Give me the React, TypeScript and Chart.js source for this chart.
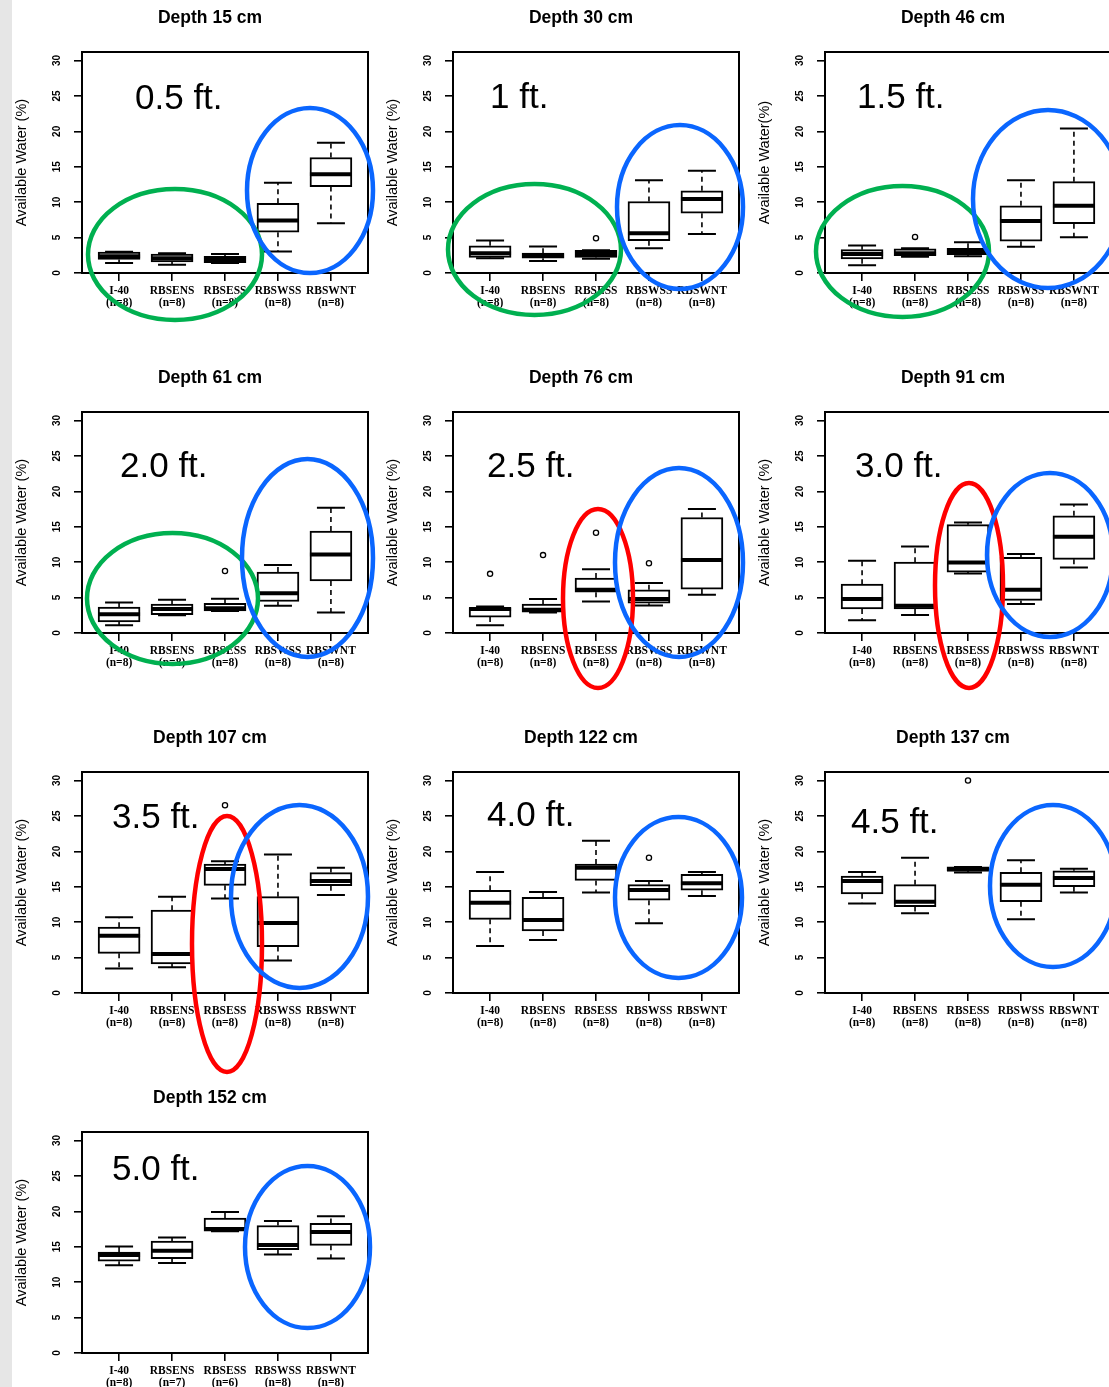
import React, { useEffect, useRef } from "react";
import { Chart, registerables } from "chart.js";

Chart.register(...registerables);

// ---------------- DATA ----------------
const CATEGORIES = ["I-40", "RBSENS", "RBSESS", "RBSWSS", "RBSWNT"];
const DEPTH_TITLES = [
  "Depth 15 cm", "Depth 30 cm", "Depth 46 cm",
  "Depth 61 cm", "Depth 76 cm", "Depth 91 cm",
  "Depth 107 cm", "Depth 122 cm", "Depth 137 cm",
  "Depth 152 cm",
];
const FT_LABELS = ["0.5 ft.", "1 ft.", "1.5 ft.", "2.0 ft.", "2.5 ft.", "3.0 ft.", "3.5 ft.", "4.0 ft.", "4.5 ft.", "5.0 ft."];
const Y_TITLES = [
  "Available Water (%)", "Available Water (%)", "Available Water(%)",
  "Available Water (%)", "Available Water (%)", "Available Water (%)",
  "Available Water (%)", "Available Water (%)", "Available Water (%)",
  "Available Water (%)",
];
const N_COUNTS = [
  [8, 8, 8, 8, 8], [8, 8, 8, 8, 8], [8, 8, 8, 8, 8],
  [8, 8, 8, 8, 8], [8, 8, 8, 8, 8], [8, 8, 8, 8, 8],
  [8, 8, 8, 8, 8], [8, 8, 8, 8, 8], [8, 8, 8, 8, 8],
  [8, 7, 6, 8, 8],
];
const Y_TICKS = [0, 5, 10, 15, 20, 25, 30];
const X_TICKS = [1, 2, 3, 4, 5];

const WHISKER_LOW = [
  [1.4, 1.17, 1.4, 3.05, 7.03],
  [2.1, 1.7, 2.0, 3.5, 5.5],
  [1.1, 2.3, 2.35, 3.7, 5.05],
  [1.1, 2.5, 3.1, 3.85, 2.9],
  [1.1, 2.9, 4.45, 3.9, 5.4],
  [1.8, 2.55, 8.4, 4.1, 9.25],
  [3.45, 3.65, 13.35, 4.6, 13.85],
  [6.65, 7.5, 14.2, 9.85, 13.7],
  [12.65, 11.25, 17.0, 10.4, 14.2],
  [12.4, 12.7, 17.2, 13.9, 13.35],
];
const Q1 = [
  [1.9, 1.55, 1.45, 5.77, 12.2],
  [2.2, 2.1, 2.2, 4.55, 8.45],
  [2.0, 2.45, 2.6, 4.5, 6.95],
  [1.55, 2.6, 3.1, 4.45, 7.35],
  [2.25, 2.95, 5.75, 4.2, 6.2],
  [3.4, 3.4, 8.6, 4.6, 10.4],
  [5.6, 4.1, 15.2, 6.55, 15.15],
  [10.4, 8.75, 15.9, 13.1, 14.5],
  [14.0, 12.2, 17.25, 12.9, 15.0],
  [12.95, 13.3, 17.2, 14.6, 15.2],
];
const MEDIAN = [
  [2.35, 2.1, 1.9, 7.4, 13.95],
  [2.8, 2.4, 2.7, 5.6, 10.45],
  [2.7, 2.8, 3.05, 7.35, 9.5],
  [2.65, 3.4, 3.5, 5.6, 11.1],
  [3.4, 3.3, 6.1, 4.8, 10.3],
  [4.8, 3.85, 9.95, 6.1, 13.6],
  [8.1, 5.5, 17.5, 9.9, 15.8],
  [12.75, 10.3, 17.7, 14.55, 15.5],
  [15.8, 12.9, 17.45, 15.3, 16.25],
  [13.85, 14.45, 17.5, 15.25, 17.1],
];
const Q3 = [
  [2.95, 2.67, 2.34, 9.85, 16.3],
  [3.84, 2.8, 3.2, 10.1, 11.6],
  [3.3, 3.4, 3.5, 9.5, 12.9],
  [3.65, 4.1, 4.2, 8.6, 14.4],
  [3.6, 4.1, 7.75, 6.1, 16.3],
  [6.9, 10.0, 15.3, 10.7, 16.55],
  [9.3, 11.7, 18.2, 13.6, 17.0],
  [14.5, 13.5, 18.2, 15.3, 16.75],
  [16.5, 15.3, 17.8, 17.05, 17.25],
  [14.25, 15.8, 19.05, 18.0, 18.3],
];
const WHISKER_HIGH = [
  [3.0, 2.8, 2.7, 12.75, 18.4],
  [4.6, 3.75, 3.2, 13.1, 14.45],
  [3.9, 3.5, 4.35, 13.1, 20.4],
  [4.3, 4.7, 4.85, 9.6, 17.7],
  [3.75, 4.8, 9.0, 7.05, 17.5],
  [10.2, 12.2, 15.6, 11.15, 18.15],
  [10.7, 13.6, 18.6, 19.55, 17.7],
  [17.1, 14.25, 21.5, 15.8, 17.1],
  [17.1, 19.1, 17.8, 18.75, 17.55],
  [15.05, 16.3, 19.9, 18.65, 19.3],
];
// [panel, category index, value]
const OUTLIERS: [number, number, number][] = [
  [1, 2, 4.9],
  [2, 1, 5.1],
  [3, 2, 8.75],
  [4, 0, 8.35], [4, 1, 11.0], [4, 2, 14.15], [4, 3, 9.85],
  [6, 2, 26.5],
  [7, 3, 19.1],
  [8, 2, 30.0],
];

// ---------------- LAYOUT / ANNOTATIONS ----------------
const COL_LEFT = [82, 453, 825];
const ROW_TOP = [52, 412, 772, 1132];
const AXIS_W = 82;
const TOP_PAD = 52;
const PLOT_W = 286;
const PLOT_H = 221;
const RIGHT_PAD = 40;
const BOTTOM_H = 92;
const CANVAS_W = AXIS_W + PLOT_W + RIGHT_PAD;
const CANVAS_H = TOP_PAD + PLOT_H + BOTTOM_H;

const GREEN = "rgb(0,176,80)";
const BLUE = "rgb(10,102,255)";
const RED = "rgb(255,0,0)";

// label anchor relative to plot area (left, baseline)
const FT_LABEL_POS = [
  [53, 57], [37, 56], [32, 56],
  [38, 65], [34, 65], [30, 65],
  [30, 56], [34, 54], [26, 61],
  [30, 48],
];
// ellipses relative to plot area: [color, cx, cy, rx, ry]
const ELLIPSES: [string, number, number, number, number][][] = [
  [[GREEN, 93, 202.5, 87, 65.5], [BLUE, 228, 138.5, 63, 82.5]],
  [[GREEN, 81.5, 197.5, 86.5, 65.5], [BLUE, 227, 155, 63, 82]],
  [[GREEN, 77.5, 199.5, 86.5, 65.5], [BLUE, 223, 147, 75, 89]],
  [[GREEN, 90.5, 186.5, 85.5, 65.5], [BLUE, 225.5, 146, 65.5, 99]],
  [[RED, 145, 186.5, 35, 89.5], [BLUE, 226, 150.5, 64, 94.5]],
  [[RED, 144, 173.5, 34, 102.5], [BLUE, 225, 143, 63, 82]],
  [[RED, 145, 172, 35, 128], [BLUE, 217.5, 124.5, 68.5, 91.5]],
  [[BLUE, 225.5, 125.5, 63.5, 80.5]],
  [[BLUE, 228, 114, 63, 81]],
  [[BLUE, 225.5, 115, 62.5, 81]],
];

const SANS = "'Liberation Sans', Arial, sans-serif";
const SERIF = "'Liberation Serif', 'Times New Roman', serif";

const decorPlugin = {
  id: "boxDecor",
  afterDatasetsDraw(chart: any, _args: any, opts: any) {
    const p = opts.panel as number;
    const { ctx } = chart;
    const x = chart.scales.x;
    const y = chart.scales.y;
    const meta = chart.getDatasetMeta(0);
    ctx.save();
    ctx.strokeStyle = "#000";
    for (let i = 0; i < CATEGORIES.length; i++) {
      const cx = x.getPixelForValue(i + 1);
      const bar = meta.data[i];
      const halfW = (bar && bar.width ? bar.width : 42) / 2;
      const capHalf = 14;
      const yLow = y.getPixelForValue(WHISKER_LOW[p][i]);
      const yQ1 = y.getPixelForValue(Q1[p][i]);
      const yQ3 = y.getPixelForValue(Q3[p][i]);
      const yHigh = y.getPixelForValue(WHISKER_HIGH[p][i]);
      const yMed = y.getPixelForValue(MEDIAN[p][i]);
      // dashed whiskers
      ctx.setLineDash([5, 4]);
      ctx.lineWidth = 1.6;
      ctx.beginPath();
      ctx.moveTo(cx, yQ3);
      ctx.lineTo(cx, yHigh);
      ctx.moveTo(cx, yQ1);
      ctx.lineTo(cx, yLow);
      ctx.stroke();
      // caps
      ctx.setLineDash([]);
      ctx.lineWidth = 2;
      ctx.beginPath();
      ctx.moveTo(cx - capHalf, yHigh);
      ctx.lineTo(cx + capHalf, yHigh);
      ctx.moveTo(cx - capHalf, yLow);
      ctx.lineTo(cx + capHalf, yLow);
      ctx.stroke();
      // median
      ctx.lineWidth = 4;
      ctx.beginPath();
      ctx.moveTo(cx - halfW, yMed);
      ctx.lineTo(cx + halfW, yMed);
      ctx.stroke();
    }
    ctx.restore();
  },
  afterDraw(chart: any, _args: any, opts: any) {
    const p = opts.panel as number;
    const { ctx, chartArea } = chart;
    const y = chart.scales.y;
    const { left, top, right, bottom } = chartArea;
    ctx.save();
    // frame
    ctx.strokeStyle = "#000";
    ctx.lineWidth = 2;
    ctx.strokeRect(left, top, right - left, bottom - top);
    // rotated y tick labels
    ctx.fillStyle = "#000";
    ctx.font = `bold 10px ${SANS}`;
    ctx.textAlign = "center";
    ctx.textBaseline = "middle";
    for (const v of Y_TICKS) {
      ctx.save();
      ctx.translate(left - 25, y.getPixelForValue(v));
      ctx.rotate(-Math.PI / 2);
      ctx.fillText(String(v), 0, 0);
      ctx.restore();
    }
    // panel title
    ctx.font = `bold 17.5px ${SANS}`;
    ctx.textAlign = "center";
    ctx.textBaseline = "middle";
    ctx.fillText(DEPTH_TITLES[p], left + 128, top - 34);
    // big depth-in-feet label
    ctx.font = `35px ${SANS}`;
    ctx.textAlign = "left";
    ctx.textBaseline = "alphabetic";
    ctx.fillText(FT_LABELS[p], left + FT_LABEL_POS[p][0], top + FT_LABEL_POS[p][1]);
    // ellipses
    ctx.lineWidth = 4.5;
    for (const [color, cx, cy, rx, ry] of ELLIPSES[p]) {
      ctx.strokeStyle = color;
      ctx.beginPath();
      ctx.ellipse(left + cx, top + cy, rx, ry, 0, 0, Math.PI * 2);
      ctx.stroke();
    }
    ctx.restore();
  },
};

function Panel({ index }: { index: number }) {
  const ref = useRef<HTMLCanvasElement | null>(null);
  useEffect(() => {
    const canvas = ref.current;
    if (!canvas) return;
    const p = index;
    const boxes = CATEGORIES.map((_, i) => ({ x: i + 1, y: [Q1[p][i], Q3[p][i]] }));
    const outs = OUTLIERS.filter((o) => o[0] === p).map((o) => ({ x: o[1] + 1, y: o[2] }));
    const chart = new Chart(canvas, {
      type: "bar",
      data: {
        datasets: [
          {
            type: "bar",
            data: boxes as any,
            backgroundColor: "#fff",
            borderColor: "#000",
            borderWidth: 2,
            borderSkipped: false,
            barThickness: 42,
          } as any,
          {
            type: "scatter",
            data: outs as any,
            pointStyle: "circle",
            pointRadius: 2.6,
            pointBorderWidth: 1.3,
            pointBorderColor: "#000",
            pointBackgroundColor: "#fff",
            showLine: false,
          } as any,
        ],
      },
      options: {
        responsive: false,
        animation: false,
        devicePixelRatio: 1,
        layout: { padding: { left: 0, top: TOP_PAD, right: RIGHT_PAD, bottom: 0 } },
        plugins: {
          legend: { display: false },
          tooltip: { enabled: false },
          boxDecor: { panel: p },
        } as any,
        scales: {
          x: {
            type: "linear",
            min: 0.3,
            max: 5.7,
            offset: false,
            afterBuildTicks: (scale: any) => {
              scale.ticks = X_TICKS.map((v) => ({ value: v }));
            },
            afterFit: (scale: any) => {
              scale.height = BOTTOM_H;
            },
            border: { display: false },
            grid: {
              display: true,
              offset: false,
              drawOnChartArea: false,
              drawTicks: true,
              tickLength: 8,
              color: "#000",
              lineWidth: 1.6,
            },
            ticks: {
              autoSkip: false,
              maxRotation: 0,
              minRotation: 0,
              padding: 5,
              color: "#000",
              font: { family: SERIF, size: 11.5, weight: "bold", lineHeight: 0.96 },
              callback: (value: any) => {
                const i = Math.round(Number(value)) - 1;
                return [CATEGORIES[i], `(n=${N_COUNTS[p][i]})`];
              },
            },
          },
          y: {
            type: "linear",
            min: 0,
            max: 31.2,
            afterBuildTicks: (scale: any) => {
              scale.ticks = Y_TICKS.map((v) => ({ value: v }));
            },
            afterFit: (scale: any) => {
              scale.width = AXIS_W;
            },
            border: { display: false },
            grid: {
              display: true,
              drawOnChartArea: false,
              drawTicks: true,
              tickLength: 8,
              color: "#000",
              lineWidth: 1.6,
            },
            ticks: { display: false },
            title: {
              display: true,
              text: Y_TITLES[p],
              color: "#000",
              font: { family: SANS, size: 14.5 },
              padding: { top: 13, bottom: 0 },
            },
          },
        },
      } as any,
      plugins: [decorPlugin as any],
    });
    return () => chart.destroy();
  }, [index]);

  const col = index % 3;
  const row = Math.floor(index / 3);
  return (
    <canvas
      ref={ref}
      width={CANVAS_W}
      height={CANVAS_H}
      style={{
        position: "absolute",
        left: COL_LEFT[col] - AXIS_W,
        top: ROW_TOP[row] - TOP_PAD,
        width: CANVAS_W,
        height: CANVAS_H,
        display: "block",
      }}
    />
  );
}

export default function App() {
  return (
    <div
      style={{
        position: "absolute",
        left: 0,
        top: 0,
        width: 1109,
        height: 1387,
        overflow: "hidden",
        background: "#fff",
      }}
    >
      <div style={{ position: "absolute", left: 0, top: 0, width: 12, height: 1387, background: "#e6e6e6" }} />
      {DEPTH_TITLES.map((_, i) => (
        <Panel key={i} index={i} />
      ))}
    </div>
  );
}
